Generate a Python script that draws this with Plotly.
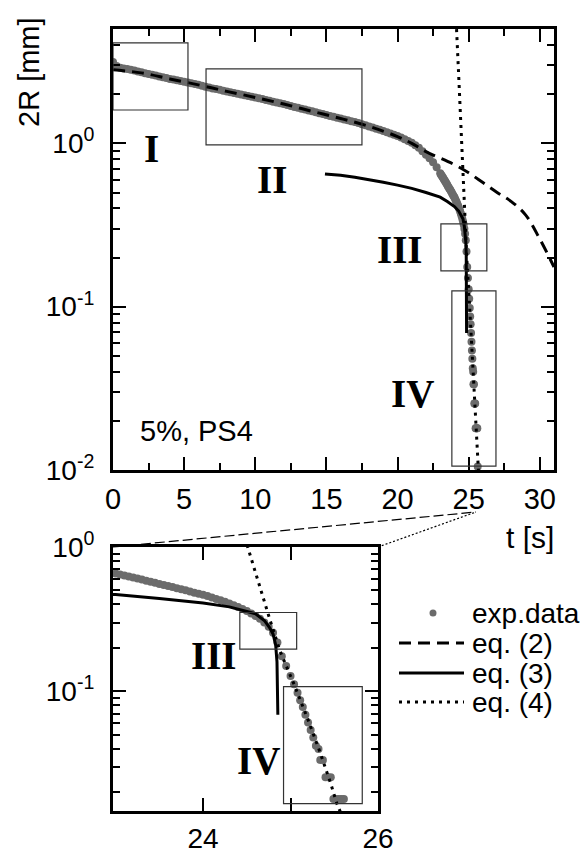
import plotly.graph_objects as go

# ---- experimental data: time t [s] and drop diameter 2R [mm] ----
t_exp = [
    0.00, 0.25, 0.50, 0.75, 1.00, 1.25, 1.50, 1.75, 2.00, 2.25, 2.50, 2.75,
    3.00, 3.25, 3.50, 3.75, 4.00, 4.25, 4.50, 4.75, 5.00, 5.25, 5.50, 5.75,
    6.00, 6.25, 6.50, 6.75, 7.00, 7.25, 7.50, 7.75, 8.00, 8.25, 8.50, 8.75,
    9.00, 9.25, 9.50, 9.75, 10.00, 10.25, 10.50, 10.75, 11.00, 11.25, 11.50, 11.75,
    12.00, 12.25, 12.50, 12.75, 13.00, 13.25, 13.50, 13.75, 14.00, 14.25, 14.50, 14.75,
    15.00, 15.25, 15.50, 15.75, 16.00, 16.25, 16.50, 16.75, 17.00, 17.25, 17.50, 17.75,
    18.00, 18.25, 18.50, 18.75, 19.00, 19.25, 19.50, 19.75, 20.00, 20.25, 20.50, 20.75,
    21.00, 21.25, 21.50, 21.75, 22.00, 22.25, 22.50, 22.75,
    23.00, 23.05, 23.10, 23.15, 23.20, 23.25, 23.30, 23.35, 23.40, 23.45, 23.50, 23.55,
    23.60, 23.65, 23.70, 23.75, 23.80, 23.85, 23.90, 23.95, 24.00, 24.05, 24.10, 24.15,
    24.20, 24.25, 24.30, 24.35, 24.40, 24.45, 24.50, 24.55, 24.60, 24.65, 24.70, 24.75,
    24.80, 24.85, 24.90, 24.95, 25.00, 25.04, 25.08, 25.11, 25.14, 25.17, 25.20, 25.23,
    25.26, 25.29, 25.32, 25.34, 25.37, 25.40, 25.43, 25.46, 25.49, 25.52, 25.55, 25.58,
    25.61, 25.64,
]
d_exp = [
    3.15, 2.98, 2.90, 2.87, 2.85, 2.82, 2.79, 2.75, 2.72, 2.69, 2.66, 2.63,
    2.60, 2.57, 2.54, 2.51, 2.48, 2.455, 2.43, 2.405, 2.38, 2.355, 2.33, 2.305,
    2.28, 2.25, 2.22, 2.195, 2.17, 2.15, 2.125, 2.10, 2.08, 2.055, 2.035, 2.01,
    1.99, 1.97, 1.95, 1.93, 1.91, 1.885, 1.865, 1.84, 1.82, 1.80, 1.78, 1.76,
    1.74, 1.715, 1.695, 1.67, 1.65, 1.63, 1.61, 1.59, 1.57, 1.55, 1.53, 1.51,
    1.49, 1.47, 1.455, 1.435, 1.42, 1.40, 1.385, 1.365, 1.35, 1.33, 1.31, 1.29,
    1.27, 1.25, 1.23, 1.21, 1.19, 1.17, 1.15, 1.13, 1.11, 1.085, 1.06, 1.035,
    1.01, 0.975, 0.94, 0.895, 0.85, 0.81, 0.765, 0.715,
    0.655, 0.645, 0.635, 0.625, 0.615, 0.605, 0.595, 0.585, 0.575, 0.565, 0.555, 0.545,
    0.537, 0.528, 0.519, 0.510, 0.501, 0.492, 0.483, 0.475, 0.467, 0.457, 0.447, 0.437,
    0.427, 0.417, 0.406, 0.395, 0.384, 0.372, 0.360, 0.347, 0.333, 0.318, 0.300, 0.280,
    0.255, 0.218, 0.175, 0.150, 0.128, 0.112, 0.098, 0.087, 0.078, 0.069, 0.061, 0.054,
    0.048, 0.042, 0.040, 0.0335, 0.0335, 0.0255, 0.0255, 0.0255, 0.018, 0.018, 0.018, 0.018,
    0.018, 0.0105,
]

# ---- eq. (2) ----
t_eq2 = [0, 2, 4, 6, 8, 10, 12, 14, 16, 18, 20, 21, 22, 24, 25, 26, 27, 28, 29, 30, 31]
d_eq2 = [2.82, 2.70, 2.48, 2.28, 2.08, 1.91, 1.74, 1.57, 1.42, 1.27, 1.10, 1.00, 0.89,
         0.74, 0.66, 0.575, 0.50, 0.44, 0.365, 0.26, 0.175]

# ---- eq. (3) ----
t_eq3 = [14.9, 15.5, 16, 17, 18, 19, 20, 21, 22, 23, 23.5, 24, 24.3, 24.5, 24.6,
         24.7, 24.76, 24.8, 24.83, 24.845, 24.852, 24.855]
d_eq3 = [0.65, 0.645, 0.637, 0.62, 0.60, 0.578, 0.555, 0.53, 0.50, 0.468, 0.44, 0.41,
         0.385, 0.36, 0.345, 0.31, 0.277, 0.25, 0.21, 0.16, 0.11, 0.069]

# ---- eq. (4) ----
t_eq4 = [24.1, 24.15, 24.3, 24.42, 24.51, 24.62, 24.76, 24.88, 25.04, 25.19, 25.33,
         25.46, 25.53, 25.7]
d_eq4 = [5.6, 5.0, 2.6, 1.5, 1.0, 0.6, 0.32, 0.19, 0.112, 0.066, 0.039, 0.023, 0.0167,
         0.0095]

series_names = ["exp.data", "eq. (2)", "eq. (3)", "eq. (4)"]

# ---- styling ----
W, H = 584, 854
GRAY = "#6b6b6b"
SANS = "Liberation Sans, Arial, sans-serif"
SERIF = "Liberation Serif, Times New Roman, serif"
DASH2 = "12px,7px"
DOT4 = "3px,5px"
INSET_TOP, INSET_BOTTOM = 547, 811


def px(x):
    return x / W


def py(y):
    return 1 - y / H


fig = go.Figure()

# main panel
fig.add_trace(go.Scatter(x=t_exp, y=d_exp, mode="markers", name=series_names[0],
                         marker=dict(color=GRAY, size=8, line=dict(width=0)),
                         xaxis="x", yaxis="y"))
fig.add_trace(go.Scatter(x=t_eq2, y=d_eq2, mode="lines", name=series_names[1],
                         line=dict(color="black", width=3, dash=DASH2, shape="spline"),
                         xaxis="x", yaxis="y"))
fig.add_trace(go.Scatter(x=t_eq3, y=d_eq3, mode="lines", name=series_names[2],
                         line=dict(color="black", width=3),
                         xaxis="x", yaxis="y"))
fig.add_trace(go.Scatter(x=t_eq4, y=d_eq4, mode="lines", name=series_names[3],
                         line=dict(color="black", width=3, dash=DOT4),
                         xaxis="x", yaxis="y"))

# zoomed panel
fig.add_trace(go.Scatter(x=t_exp, y=d_exp, mode="markers", name=series_names[0],
                         marker=dict(color=GRAY, size=8, line=dict(width=0)),
                         xaxis="x2", yaxis="y2"))
fig.add_trace(go.Scatter(x=t_eq3, y=d_eq3, mode="lines", name=series_names[2],
                         line=dict(color="black", width=3),
                         xaxis="x2", yaxis="y2"))
fig.add_trace(go.Scatter(x=t_eq4, y=d_eq4, mode="lines", name=series_names[3],
                         line=dict(color="black", width=3, dash=DOT4),
                         xaxis="x2", yaxis="y2"))

minor_log = [0.02, 0.03, 0.04, 0.05, 0.06, 0.07, 0.08, 0.09,
             0.2, 0.3, 0.4, 0.5, 0.6, 0.7, 0.8, 0.9, 2, 3, 4, 5]

axis_common = dict(showline=True, linewidth=3, linecolor="black", mirror="allticks",
                   ticks="inside", tickwidth=2, tickcolor="black", showgrid=False,
                   zeroline=False, automargin=False)

fig.update_layout(
    width=W, height=H, margin=dict(l=0, r=0, t=0, b=0, pad=0, autoexpand=False),
    paper_bgcolor="white", plot_bgcolor="white", showlegend=False,
    xaxis=dict(**axis_common, domain=[px(113), px(554)], range=[0, 31], anchor="y",
               tickvals=[0, 5, 10, 15, 20, 25, 30], ticklen=13,
               minor=dict(tickvals=[2.5, 7.5, 12.5, 17.5, 22.5, 27.5], ticklen=7,
                          tickwidth=2, tickcolor="black", ticks="inside"),
               tickfont=dict(family=SANS, size=29, color="black"),
               ticklabelstandoff=1),
    yaxis=dict(**axis_common, domain=[py(470), py(29)], type="log", range=[-2, 0.70],
               anchor="x",
               tickvals=[0.01, 0.1, 1],
               ticktext=["10<sup>-2</sup>", "10<sup>-1</sup>", "10<sup>0</sup>"],
               ticklen=13,
               minor=dict(tickvals=minor_log, ticklen=7, tickwidth=2,
                          tickcolor="black", ticks="inside"),
               tickfont=dict(family=SANS, size=28, color="black"),
               ticklabelstandoff=10),
    xaxis2=dict(**axis_common, domain=[px(113), px(378)], range=[22.97, 26.0],
                anchor="y2", tickvals=[24, 25, 26], ticktext=["24", "", "26"],
                ticklen=13, tickfont=dict(family=SANS, size=28, color="black"),
                ticklabelstandoff=0),
    yaxis2=dict(**axis_common, domain=[py(INSET_BOTTOM), py(INSET_TOP)], type="log",
                range=[-1.828, 0], anchor="x2", tickvals=[0.1, 1],
                ticktext=["10<sup>-1</sup>", "10<sup>0</sup>"], ticklen=13,
                minor=dict(tickvals=minor_log, ticklen=7, tickwidth=2,
                           tickcolor="black", ticks="inside"),
                tickfont=dict(family=SANS, size=28, color="black"),
                ticklabelstandoff=10),
)

# regions I-IV marked with thin boxes (t range, 2R range)
region_boxes = [
    ("x", "y", 0.0, 5.27, 1.60, 4.12),
    ("x", "y", 6.54, 17.5, 0.978, 2.86),
    ("x", "y", 23.05, 26.28, 0.1655, 0.321),
    ("x", "y", 23.82, 26.92, 0.01057, 0.1248),
    ("x2", "y2", 24.42, 25.07, 0.196, 0.352),
    ("x2", "y2", 24.92, 25.82, 0.0167, 0.108),
]
for xr, yr, x0, x1, y0, y1 in region_boxes:
    fig.add_shape(type="rect", xref=xr, yref=yr, x0=x0, x1=x1, y0=y0, y1=y1,
                  line=dict(color="#333333", width=1.2), layer="above")

# region labels (t, log10 2R)
region_labels = [
    ("x", "y", 2.74, -0.03, "I"),
    ("x", "y", 11.17, -0.22, "II"),
    ("x", "y", 20.17, -0.65, "III"),
    ("x", "y", 21.08, -1.53, "IV"),
    ("x2", "y2", 24.12, -0.75, "III"),
    ("x2", "y2", 24.63, -1.475, "IV"),
]
for xr, yr, x, y, txt in region_labels:
    fig.add_annotation(xref=xr, yref=yr, x=x, y=y, text=txt, showarrow=False,
                       xanchor="center", yanchor="middle",
                       font=dict(family=SERIF, size=39, color="black", weight="bold"))

fig.add_annotation(xref="x", yref="y", x=5.9, y=-1.76, text="5%, PS4", showarrow=False,
                   xanchor="center", yanchor="middle",
                   font=dict(family=SANS, size=29, color="black"))

# axis titles
fig.add_annotation(xref="paper", yref="paper", x=px(29), y=py(72), text="2R [mm]",
                   textangle=-90, showarrow=False, xanchor="center", yanchor="middle",
                   font=dict(family=SANS, size=29, color="black"))
fig.add_annotation(xref="paper", yref="paper", x=px(530), y=py(537), text="t [s]",
                   showarrow=False, xanchor="center", yanchor="middle",
                   font=dict(family=SANS, size=30, color="black"))

# lines linking the zoomed panel to t = 25 on the main panel
fig.add_shape(type="line", xref="paper", yref="paper", x0=px(113), y0=py(INSET_TOP),
              x1=px(476), y1=py(512), line=dict(color="black", width=1.2, dash="10px,4px"))
fig.add_shape(type="line", xref="paper", yref="paper", x0=px(378), y0=py(INSET_TOP),
              x1=px(476), y1=py(512), line=dict(color="black", width=1.2, dash="2px,2px"))

# key
key_rows = [613, 643, 673, 702]
fig.add_shape(type="circle", xref="paper", yref="paper",
              x0=px(429.5), x1=px(436.5), y0=py(616.5), y1=py(609.5),
              fillcolor=GRAY, line=dict(width=0))
key_dash = [DASH2, "solid", DOT4]
for row, dash in zip(key_rows[1:], key_dash):
    fig.add_shape(type="line", xref="paper", yref="paper", x0=px(399), x1=px(464),
                  y0=py(row), y1=py(row), line=dict(color="black", width=3, dash=dash))
for row, name in zip(key_rows, series_names):
    fig.add_annotation(xref="paper", yref="paper", x=px(470), y=py(row), text=name,
                       xanchor="left", yanchor="middle", showarrow=False,
                       font=dict(family=SANS, size=28, color="black"))

# page body without default margins so the figure fills the window exactly
fig.write_html("out.html",
               post_script="document.body.style.margin='0';"
                           "document.documentElement.style.overflow='hidden';")
